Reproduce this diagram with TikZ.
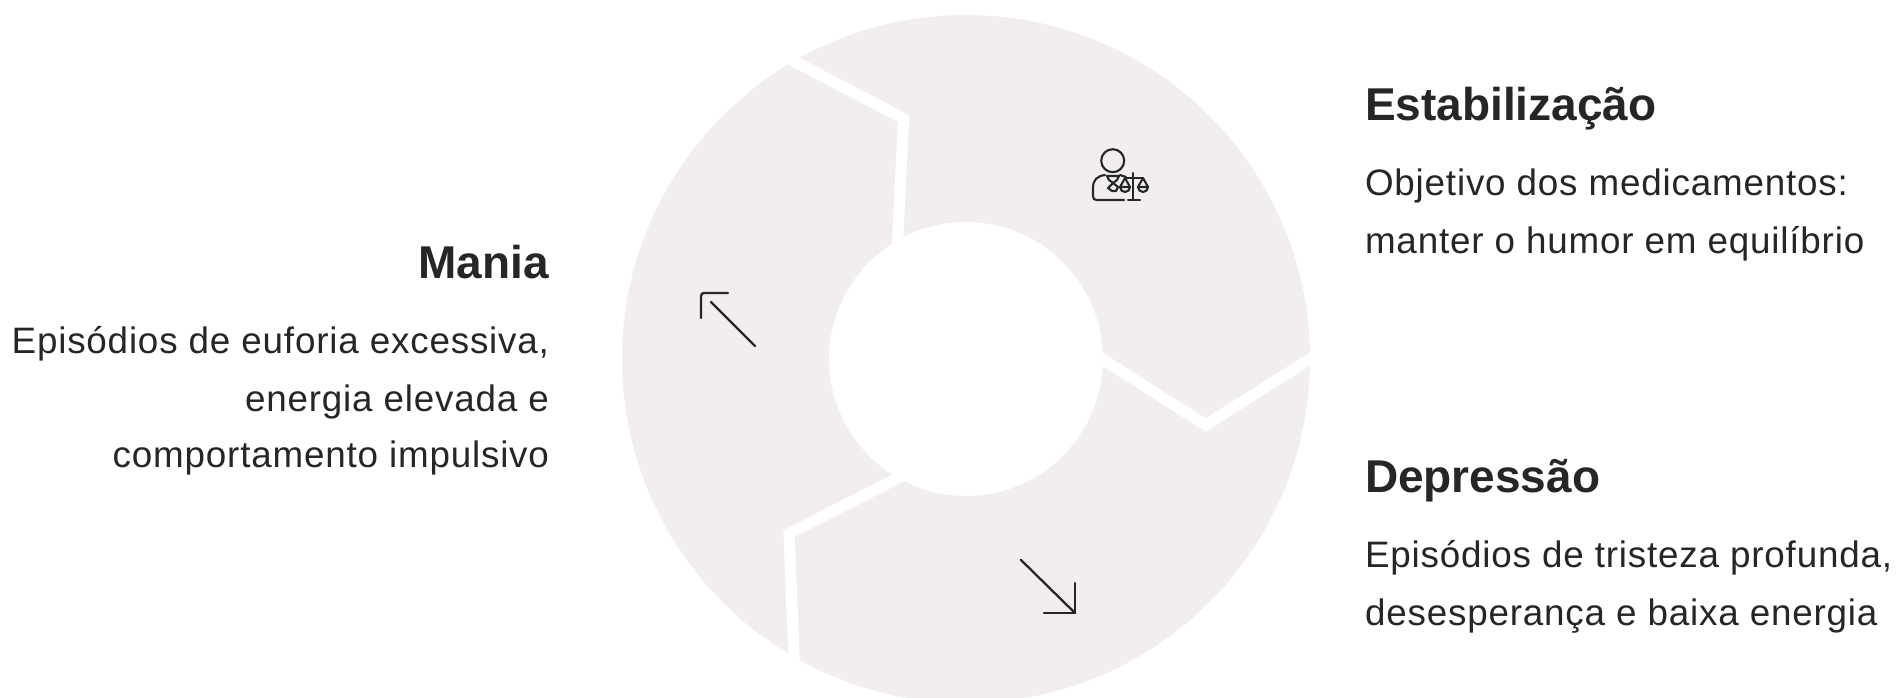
\documentclass[tikz,border=0pt]{standalone}
\usepackage{fontspec}
\setmainfont{Liberation Sans}
\newfontfamily\bodyfont{Liberation Sans}[LetterSpace=2.2]
\usetikzlibrary{positioning}
\definecolor{RingGray}{RGB}{241,238,237}
\definecolor{InkDark}{RGB}{38,38,38}
\begin{document}
\begin{tikzpicture}[
        x=0.5pt,y=-0.5pt,
        every node/.style={text=InkDark,inner sep=0pt,outer sep=0pt},
        titleText/.style={font=\fontsize{23}{25}\selectfont\bfseries},
        bodyText/.style={font=\fontsize{18.4}{14.4}\bodyfont},
        gapLine/.style={draw=white,line width=5.6pt,miter limit=10},
        arrowLine/.style={draw=InkDark,line width=1.15pt,line cap=round,rounded corners=1.5pt},
        iconLine/.style={draw=InkDark,line width=1.05pt,line cap=round,line join=round}]
        \useasboundingbox (0,0) rectangle (1904,697);
        \clip (0,0) rectangle (1904,697);
        \coordinate (ctr) at (966,359);
        \fill[RingGray,even odd rule] (ctr) circle[radius=344] (ctr) circle[radius=137];
        \draw[gapLine] (1095,354.5)--(1205.7,425)--(1322,351.5);
        \draw[gapLine] (897,252)--(903.5,118.5)--(782,55);
        \draw[gapLine] (907,473.5)--(789,533.5)--(794.6,670);
        % arrows
        \draw[arrowLine] (755,346)--(711,302);
        \draw[arrowLine] (701,318)--(701,293)--(728,293);
        \draw[arrowLine] (1021,560)--(1075,613);
        \draw[arrowLine,rounded corners=0pt] (1075,583)--(1075,613)--(1044,613);
        % icon
        \draw[iconLine] (1112.7,160.7) circle[radius=11.5];
        \draw[iconLine] (1105,175) .. controls (1097,176) and (1093,180) .. (1093,188)--(1093,196)
            .. controls (1093,199) and (1094,200) .. (1097,200)--(1124,200);
        \draw[iconLine] (1120,175)--(1126,177);
        \draw[iconLine] (1107,176)--(1109,180)--(1113,183)--(1117,180)--(1119,176)--cycle;
        \draw[iconLine] (1113,183)--(1108,188)--(1112,191)--(1116,191)--(1118,187)--cycle;
        \draw[iconLine] (1133,173)--(1133,200) (1128,200)--(1140,200) (1125,178)--(1143,178);
        \draw[iconLine] (1125,178)--(1120,187) (1125,178)--(1130,187);
        \draw[iconLine] (1120,187)--(1130,187) arc[start angle=0,end angle=180,radius=5];
        \draw[iconLine] (1143,178)--(1138,187) (1143,178)--(1148,187);
        \draw[iconLine] (1138,187)--(1148,187) arc[start angle=0,end angle=180,radius=5];
        % texts
        \node[titleText,anchor=base west] (stabTitle) at (1365,120) {Estabilização};
        \node[bodyText,anchor=base west] (stabOne) at (1365,195.5) {Objetivo dos medicamentos:};
        \node[bodyText,anchor=base west] (stabTwo) at (1365,253) {manter o humor em equilíbrio};
        \node[titleText,anchor=base east] (maniaTitle) at (549,278) {Mania};
        \node[bodyText,anchor=base east] (maniaOne) at (549,353) {Episódios de euforia excessiva,};
        \node[bodyText,anchor=base east] (maniaTwo) at (549,411) {energia elevada e};
        \node[bodyText,anchor=base east] (maniaThree) at (549,467) {comportamento impulsivo};
        \node[titleText,anchor=base west] (depTitle) at (1365,492) {Depressão};
        \node[bodyText,anchor=base west] (depOne) at (1365,567) {Episódios de tristeza profunda,};
        \node[bodyText,anchor=base west] (depTwo) at (1365,625) {desesperança e baixa energia};
      \end{tikzpicture}
\end{document}
